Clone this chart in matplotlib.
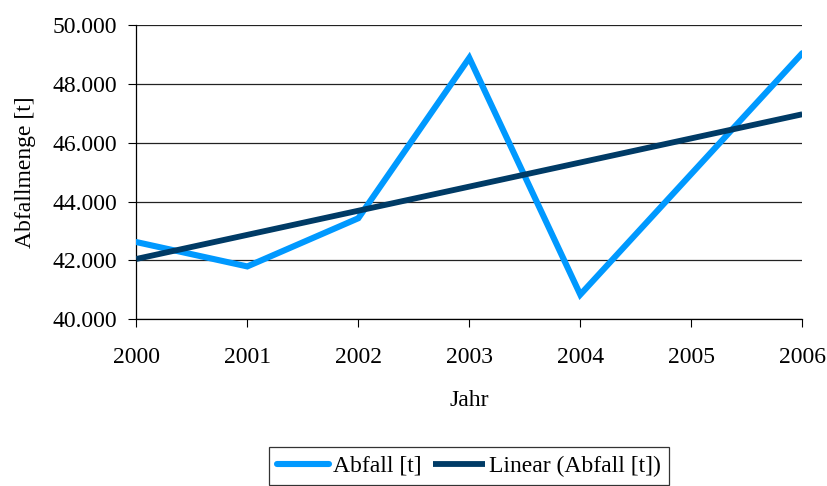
import numpy as np
import matplotlib
matplotlib.use("Agg")
import matplotlib.pyplot as plt
from matplotlib.ticker import FuncFormatter, MultipleLocator

plt.rcParams['font.family'] = ['Liberation Serif', 'DejaVu Serif']

# Abfallmengen je Jahr
jahre = [2000, 2001, 2002, 2003, 2004, 2005, 2006]
abfall = [42620, 41790, 43430, 48890, 40830, 44940, 49050]

x_labels = [str(j) for j in jahre]

# Lineare Trendlinie (Kleinste Quadrate)
idx = np.arange(len(jahre))
steigung, achse = np.polyfit(idx, abfall, 1)
trend = steigung * idx + achse

hell = '#0099FF'
dunkel = '#003B66'
fs = 17

fig = plt.figure(figsize=(8.27, 4.86), dpi=100)
ax = fig.add_axes([0.1648, 0.3436, 0.8053, 0.6044])

ax.plot(idx, abfall, color=hell, lw=4.4, solid_capstyle='round',
        solid_joinstyle='miter', label='Abfall [t]', zorder=3)
ax.plot(idx, trend, color=dunkel, lw=4.2, solid_capstyle='butt',
        label='Linear (Abfall [t])', zorder=4)

ax.set_xlim(0, len(jahre) - 1)
ax.set_ylim(40000, 50000)
ax.set_xticks(idx)
ax.set_xticklabels(x_labels)
ax.yaxis.set_major_locator(MultipleLocator(2000))
ax.yaxis.set_major_formatter(
    FuncFormatter(lambda v, p: f"{int(v):,}".replace(',', '.')))

ax.grid(axis='y', color='#222222', lw=0.9, zorder=1)
ax.set_axisbelow(True)
for s in ('top', 'right'):
    ax.spines[s].set_visible(False)
for s in ('left', 'bottom'):
    ax.spines[s].set_color('black')
    ax.spines[s].set_linewidth(0.9)

ax.tick_params(axis='both', direction='out', length=6, width=0.8,
               colors='black', labelsize=fs)
ax.tick_params(axis='y', pad=7.5)
ax.tick_params(axis='x', pad=14)

ax.set_xlabel('Jahr', fontsize=fs, labelpad=16)
ax.set_ylabel('Abfallmenge [t]', fontsize=fs, labelpad=12)

leg = fig.legend(loc='upper center', bbox_to_anchor=(0.567, 0.0802),
                 ncol=2, fontsize=fs, frameon=True, fancybox=False,
                 edgecolor='black', handlelength=2.2, handletextpad=0.15,
                 columnspacing=0.5, borderpad=0.35, borderaxespad=0)
leg.get_frame().set_linewidth(0.9)

fig.savefig('out.png', dpi=100)
